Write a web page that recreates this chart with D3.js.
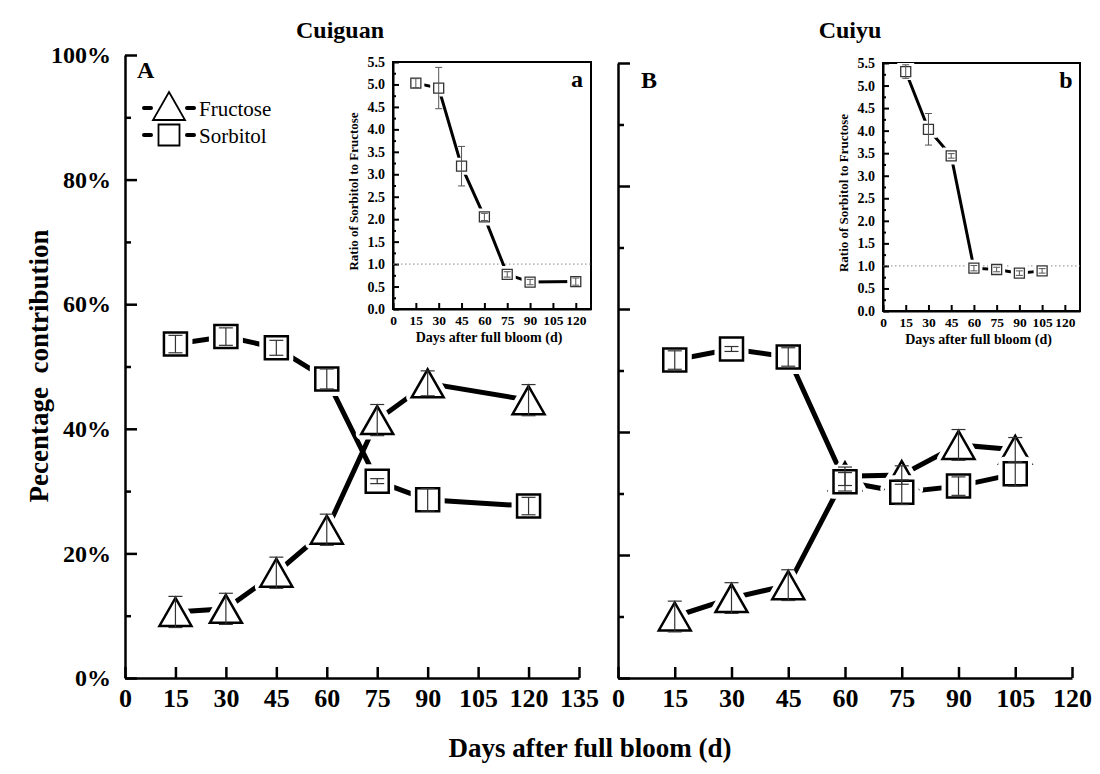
<!DOCTYPE html>
<html>
<head>
<meta charset="utf-8">
<script src="https://cdn.jsdelivr.net/npm/d3@7"></script>
<style>
  body { margin: 0; background: #fff; }
</style>
</head>
<body>
<div id="chart"></div>
<script>
"use strict";

// Cuiguan (panel A)
const daysA = [15, 30, 45, 60, 75, 90, 120];
const fructoseA = [10.6, 11.1, 16.9, 23.8, 41.4, 47.3, 44.6];
const fructoseErrA = [2.5, 2.5, 2.5, 2.5, 2.5, 2.0, 2.5];
const sorbitolA = [53.6, 54.8, 53.0, 48.0, 31.6, 28.6, 27.6];
const sorbitolErrA = [1.4, 1.4, 1.2, 1.6, 0.4, 1.8, 1.4];

// Cuiyu (panel B)
const daysB = [15, 30, 45, 60, 75, 90, 105];
const fructoseB = [10.0, 13.0, 15.1, 32.8, 33.0, 37.9, 37.1];
const fructoseErrB = [2.5, 2.5, 2.5, 1.5, 1.5, 2.5, 2.0];
const sorbitolB = [51.7, 53.5, 52.2, 31.9, 30.2, 31.2, 33.2];
const sorbitolErrB = [1.5, 0.4, 1.5, 1.5, 2.0, 1.5, 2.0];

// insets: ratio of sorbitol to fructose
const ratioA = [5.03, 4.92, 3.18, 2.05, 0.77, 0.60, 0.61];
const ratioErrA = [0.10, 0.46, 0.44, 0.08, 0.06, 0.06, 0.08];
const ratioB = [5.31, 4.03, 3.44, 0.95, 0.92, 0.84, 0.89];
const ratioErrB = [0.15, 0.35, 0.05, 0.06, 0.05, 0.05, 0.05];

const xTicksA = [0, 15, 30, 45, 60, 75, 90, 105, 120, 135];
const xTicksB = [0, 15, 30, 45, 60, 75, 90, 105, 120];
const yTicks = [0, 20, 40, 60, 80, 100];
const yMinorTicks = [10, 30, 50, 70, 90];
const insetXTicks = [0, 15, 30, 45, 60, 75, 90, 105, 120];
const insetYTicks = [0, 0.5, 1, 1.5, 2, 2.5, 3, 3.5, 4, 4.5, 5, 5.5];
const insetYMinor = [0.25, 0.75, 1.25, 1.75, 2.25, 2.75, 3.25, 3.75, 4.25, 4.75, 5.25];

const FONT = "Liberation Serif";

const svg = d3.select("#chart").append("svg")
    .attr("width", 1100)
    .attr("height", 774)
    .attr("font-family", FONT);

function label(sel) {
    return sel.append("text").attr("font-family", FONT).attr("fill", "#000");
}

const triPath = "M0,-14L16,14L-16,14Z";
function sqPath(h) { return `M${-h},${-h}H${h}V${h}H${-h}Z`; }

function styleAxis(g, fs) {
    g.attr("font-family", FONT);
    g.selectAll("path").attr("stroke", "#000").attr("stroke-width", 2.5);
    g.selectAll("line").attr("stroke", "#000").attr("stroke-width", 2.5);
    g.selectAll("text").attr("font-size", fs).attr("font-weight", "bold")
        .attr("font-family", FONT).attr("fill", "#000");
}

function drawPanel(o) {
    const x = d3.scaleLinear().domain([0, o.xMax]).range([o.x0, o.x1]);
    const y = d3.scaleLinear().domain([0, 100]).range([o.y0, o.y1]);

    const gx = svg.append("g").attr("transform", `translate(0,${o.y0})`)
        .call(d3.axisBottom(x).tickValues(o.xTicks).tickSizeInner(-11).tickSizeOuter(0).tickPadding(11));
    styleAxis(gx, 26);

    const gy = svg.append("g").attr("transform", `translate(${o.x0},0)`)
        .call(d3.axisLeft(y).tickValues(yTicks).tickSizeInner(-12).tickSizeOuter(0).tickPadding(14)
            .tickFormat(d => o.labels ? d + "%" : ""));
    styleAxis(gy, 24);

    const gm = svg.append("g").attr("transform", `translate(${o.x0},0)`)
        .call(d3.axisLeft(y).tickValues(yMinorTicks).tickSizeInner(-6).tickSizeOuter(0).tickFormat(""));
    styleAxis(gm, 10);
    gm.select("path").remove();

    const series = [
        { vals: o.fructose, err: o.fructoseErr, shape: triPath },
        { vals: o.sorbitol, err: o.sorbitolErr, shape: sqPath(11.5) }
    ];

    const line = d3.line().x(d => x(d[0])).y(d => y(d[1]));
    series.forEach(s => {
        svg.append("path")
            .datum(o.days.map((d, i) => [d, s.vals[i]]))
            .attr("d", line)
            .attr("fill", "none")
            .attr("stroke", "#000")
            .attr("stroke-width", 5);
    });

    series.forEach(s => {
        const g = svg.append("g");
        const pts = o.days.map((d, i) => [d, s.vals[i]]);
        g.selectAll(".halo").data(pts).enter().append("path")
            .attr("d", s.shape)
            .attr("transform", d => `translate(${x(d[0])},${y(d[1])})`)
            .attr("fill", "#fff").attr("stroke", "#fff")
            .attr("stroke-width", 11).attr("stroke-linejoin", "round");
        g.selectAll(".mk").data(pts).enter().append("path")
            .attr("d", s.shape)
            .attr("transform", d => `translate(${x(d[0])},${y(d[1])})`)
            .attr("fill", "#fff").attr("stroke", "#000")
            .attr("stroke-width", 2.5);
    });

    series.forEach(s => {
        const g = svg.append("g").attr("stroke", "#333").attr("stroke-width", 1.2);
        o.days.forEach((d, i) => {
            const cx = x(d), hi = y(s.vals[i] + s.err[i]), lo = y(s.vals[i] - s.err[i]);
            g.append("line").attr("x1", cx).attr("x2", cx).attr("y1", hi).attr("y2", lo);
            g.append("line").attr("x1", cx - 7).attr("x2", cx + 7).attr("y1", hi).attr("y2", hi);
            g.append("line").attr("x1", cx - 7).attr("x2", cx + 7).attr("y1", lo).attr("y2", lo);
        });
    });

    label(svg).attr("x", o.letterX).attr("y", o.letterY)
        .attr("font-size", 24).attr("font-weight", "bold").text(o.letter);
    label(svg).attr("x", o.titleX).attr("y", 38).attr("text-anchor", "middle")
        .attr("font-size", 24).attr("font-weight", "bold").text(o.title);
}

function drawInset(o) {
    const x = d3.scaleLinear().domain([0, 130]).range([o.x0, o.x1]);
    const y = d3.scaleLinear().domain([0, 5.5]).range([o.y0, o.y1]);

    svg.append("rect").attr("x", o.x0).attr("y", o.y1)
        .attr("width", o.x1 - o.x0).attr("height", o.y0 - o.y1)
        .attr("fill", "#fff").attr("stroke", "#000").attr("stroke-width", 2);

    const gx = svg.append("g").attr("transform", `translate(0,${o.y0})`)
        .call(d3.axisBottom(x).tickValues(insetXTicks).tickSizeInner(-6).tickSizeOuter(0).tickPadding(6));
    styleAxis(gx, 13.5);
    gx.selectAll("line,path").attr("stroke-width", 2);

    const gy = svg.append("g").attr("transform", `translate(${o.x0},0)`)
        .call(d3.axisLeft(y).tickValues(insetYTicks).tickSizeInner(-6).tickSizeOuter(0).tickPadding(8)
            .tickFormat(d3.format(".1f")));
    styleAxis(gy, 14);
    gy.selectAll("line,path").attr("stroke-width", 2);

    const gm = svg.append("g").attr("transform", `translate(${o.x0},0)`)
        .call(d3.axisLeft(y).tickValues(insetYMinor).tickSizeInner(-3).tickSizeOuter(0).tickFormat(""));
    styleAxis(gm, 10);
    gm.selectAll("line").attr("stroke-width", 2);
    gm.select("path").remove();

    svg.append("line").attr("x1", o.x0).attr("x2", o.x1).attr("y1", y(1)).attr("y2", y(1))
        .attr("stroke", "#888").attr("stroke-width", 1).attr("stroke-dasharray", "1.5,2.5");

    const pts = o.days.map((d, i) => [d, o.vals[i]]);
    svg.append("path").datum(pts)
        .attr("d", d3.line().x(d => x(d[0])).y(d => y(d[1])))
        .attr("fill", "none").attr("stroke", "#000").attr("stroke-width", 3);

    svg.selectAll(null).data(pts).enter().append("path")
        .attr("d", sqPath(5))
        .attr("transform", d => `translate(${x(d[0])},${y(d[1])})`)
        .attr("fill", "#fff").attr("stroke", "#fff").attr("stroke-width", 7);
    svg.selectAll(null).data(pts).enter().append("path")
        .attr("d", sqPath(5))
        .attr("transform", d => `translate(${x(d[0])},${y(d[1])})`)
        .attr("fill", "#fff").attr("stroke", "#333").attr("stroke-width", 1.3);

    const g = svg.append("g").attr("stroke", "#555").attr("stroke-width", 1);
    o.days.forEach((d, i) => {
        const cx = x(d), hi = y(o.vals[i] + o.err[i]), lo = y(o.vals[i] - o.err[i]);
        g.append("line").attr("x1", cx).attr("x2", cx).attr("y1", hi).attr("y2", lo);
        g.append("line").attr("x1", cx - 3.5).attr("x2", cx + 3.5).attr("y1", hi).attr("y2", hi);
        g.append("line").attr("x1", cx - 3.5).attr("x2", cx + 3.5).attr("y1", lo).attr("y2", lo);
    });

    label(svg).attr("x", o.x1 - 14).attr("y", o.y1 + 25).attr("text-anchor", "middle")
        .attr("font-size", 24).attr("font-weight", "bold").text(o.letter);

    label(svg)
        .attr("transform", `translate(${o.x0 - 35},${(o.y0 + o.y1) / 2 + 6}) rotate(-90)`)
        .attr("text-anchor", "middle").attr("font-size", 13).attr("font-weight", "bold")
        .text("Ratio of Sorbitol to Fructose");
    label(svg).attr("x", (o.x0 + o.x1) / 2 - 3).attr("y", o.y0 + 33)
        .attr("text-anchor", "middle").attr("font-size", 14).attr("font-weight", "bold")
        .text("Days after full bloom (d)");
}

drawPanel({
    x0: 125, x1: 579, y0: 678, y1: 55, xMax: 135, xTicks: xTicksA, labels: true,
    days: daysA, fructose: fructoseA, fructoseErr: fructoseErrA,
    sorbitol: sorbitolA, sorbitolErr: sorbitolErrA,
    letter: "A", letterX: 137, letterY: 78, title: "Cuiguan", titleX: 340
});

drawPanel({
    x0: 618, x1: 1072, y0: 678, y1: 63, xMax: 120, xTicks: xTicksB, labels: false,
    days: daysB, fructose: fructoseB, fructoseErr: fructoseErrB,
    sorbitol: sorbitolB, sorbitolErr: sorbitolErrB,
    letter: "B", letterX: 641, letterY: 88, title: "Cuiyu", titleX: 850
});

drawInset({ x0: 393, x1: 591, y0: 309, y1: 62, days: daysA, vals: ratioA, err: ratioErrA, letter: "a" });
drawInset({ x0: 883, x1: 1080, y0: 311, y1: 63, days: daysB, vals: ratioB, err: ratioErrB, letter: "b" });

// legend
const legendItems = [
    { name: "Fructose", shape: triPath, y: 106, lineY: 108 },
    { name: "Sorbitol", shape: sqPath(10.5), y: 135, lineY: 135 }
];
legendItems.forEach(it => {
    [[144, 151], [187, 194]].forEach(seg => {
        svg.append("line").attr("x1", seg[0]).attr("x2", seg[1])
            .attr("y1", it.lineY).attr("y2", it.lineY)
            .attr("stroke", "#000").attr("stroke-width", 4).attr("stroke-linecap", "round");
    });
    svg.append("path").attr("d", it.shape)
        .attr("transform", `translate(169,${it.y})`)
        .attr("fill", "#fff").attr("stroke", "#000").attr("stroke-width", 1.8);
    label(svg).attr("x", 199).attr("y", it.lineY + 8)
        .attr("font-size", 21).text(it.name);
});

// axis titles
label(svg)
    .attr("transform", "translate(48,366) rotate(-90)")
    .attr("text-anchor", "middle").attr("font-size", 27).attr("font-weight", "bold")
    .attr("xml:space", "preserve")
    .text("Pecentage  contribution");

label(svg).attr("x", 590).attr("y", 757).attr("text-anchor", "middle")
    .attr("font-size", 27).attr("font-weight", "bold")
    .text("Days after full bloom (d)");
</script>
</body>
</html>
